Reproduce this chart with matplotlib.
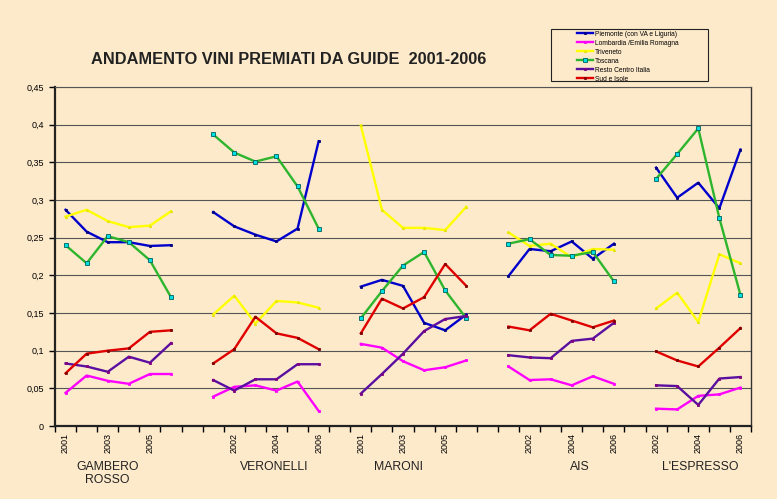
import numpy as np
import matplotlib

matplotlib.use("Agg")
import matplotlib.pyplot as plt
from matplotlib.patches import Rectangle

plt.rcParams["font.family"] = ["Liberation Sans", "DejaVu Sans"]

NA = np.nan

# one category per year, empty slots separate the guides (Excel style)
CATEGORIES = (
    ["2001", "2002", "2003", "2004", "2005", "2006", ""]      # Gambero Rosso
    + ["2001", "2002", "2003", "2004", "2005", "2006", ""]    # Veronelli
    + ["2001", "2002", "2003", "2004", "2005", "2006", ""]    # Maroni
    + ["2001", "2002", "2003", "2004", "2005", "2006", ""]    # AIS
    + ["2002", "2003", "2004", "2005", "2006"]                # L'Espresso
)
GUIDES = ["GAMBERO\nROSSO", "VERONELLI", "MARONI", "AIS", "L'ESPRESSO"]
GUIDE_LABEL_X = [2.0, 9.9, 15.8, 24.4, 30.1]

piemonte = [0.287, 0.258, 0.244, 0.244, 0.239, 0.240, NA,
            0.284, 0.265, 0.254, 0.245, 0.262, 0.378, NA,
            0.185, 0.194, 0.186, 0.137, 0.127, 0.148, NA,
            0.199, 0.235, 0.232, 0.245, 0.222, 0.242, NA,
            0.343, 0.303, 0.323, 0.289, 0.367]
lombardia = [0.044, 0.067, 0.060, 0.056, 0.069, 0.069, NA,
             0.039, 0.052, 0.054, 0.047, 0.059, 0.020, NA,
             0.109, 0.104, 0.086, 0.074, 0.078, 0.087, NA,
             0.079, 0.061, 0.062, 0.054, 0.066, 0.056, NA,
             0.023, 0.022, 0.040, 0.042, 0.051]
triveneto = [0.278, 0.287, 0.272, 0.264, 0.266, 0.285, NA,
             0.148, 0.173, 0.136, 0.166, 0.164, 0.157, NA,
             0.399, 0.287, 0.263, 0.263, 0.260, 0.291, NA,
             0.257, 0.239, 0.242, 0.224, 0.235, 0.234, NA,
             0.156, 0.177, 0.138, 0.228, 0.216]
toscana = [0.240, 0.216, 0.252, 0.244, 0.220, 0.171, NA,
           0.387, 0.363, 0.351, 0.358, 0.318, 0.262, NA,
           0.143, 0.179, 0.213, 0.231, 0.180, 0.143, NA,
           0.242, 0.248, 0.227, 0.226, 0.231, 0.192, NA,
           0.328, 0.361, 0.395, 0.276, 0.174]
resto_centro = [0.083, 0.079, 0.072, 0.092, 0.084, 0.110, NA,
                0.061, 0.047, 0.062, 0.062, 0.082, 0.082, NA,
                0.043, 0.069, 0.096, 0.126, 0.142, 0.146, NA,
                0.094, 0.091, 0.090, 0.113, 0.116, 0.137, NA,
                0.054, 0.053, 0.028, 0.063, 0.065]
sud_isole = [0.070, 0.096, 0.100, 0.103, 0.125, 0.127, NA,
             0.083, 0.102, 0.145, 0.123, 0.117, 0.102, NA,
             0.123, 0.169, 0.156, 0.171, 0.215, 0.186, NA,
             0.132, 0.127, 0.149, 0.140, 0.131, 0.140, NA,
             0.099, 0.087, 0.079, 0.104, 0.130]

SERIES = [
    ("Piemonte (con VA e Liguria)", piemonte, "#0000CC", "s", "#000080", "#000080", 1.4),
    ("Lombardia /Emilia Romagna", lombardia, "#FF00FF", "s", "#FF00FF", "#FF00FF", 1.4),
    ("Triveneto", triveneto, "#FFFF00", "^", "#E0E000", "#FFFF00", 1.6),
    ("Toscana", toscana, "#2DB52D", "s", "#006060", "#00E0E0", 2.4),
    ("Resto Centro Italia", resto_centro, "#5A0FA0", "s", "#800080", "#800080", 1.8),
    ("Sud e Isole", sud_isole, "#E00000", "s", "#800000", "#800000", 1.4),
]

BG = "#FDEACB"


def main():
    fig = plt.figure(figsize=(7.77, 4.99), dpi=100, facecolor=BG)
    ax = fig.add_axes([55 / 777, 73 / 499, 696 / 777, 339 / 499], facecolor=BG)

    x = np.arange(len(CATEGORIES))
    handles = []
    for label, vals, color, marker, mec, mfc, ms in SERIES:
        (line,) = ax.plot(x, np.array(vals, dtype=float), color=color, lw=1.7,
                          marker=marker, ms=ms, mec=mec, mfc=mfc, mew=0.6,
                          label=label, zorder=3)
        handles.append(line)

    ax.set_xlim(-0.5, len(CATEGORIES) - 0.5)
    ax.set_ylim(0, 0.45)
    yt = np.arange(0, 0.451, 0.05)
    ax.set_yticks(yt)
    ax.set_yticklabels([("%.2f" % v).rstrip("0").rstrip(".").replace(".", ",") for v in yt],
                       fontsize=6.5)
    ax.grid(axis="y", color="#555555", lw=0.8)
    ax.set_axisbelow(True)

    ax.set_xticks(np.arange(-0.5, len(CATEGORIES)), minor=False)
    ax.set_xticklabels([])
    ax.set_xticks(x[::2], minor=True)
    ax.set_xticklabels(CATEGORIES[::2], minor=True, rotation=90, fontsize=6.5)
    ax.tick_params(axis="x", which="major", length=4, width=1, direction="out")
    ax.tick_params(axis="x", which="minor", length=0, pad=5)
    ax.tick_params(axis="y", length=4, width=1, pad=4)

    for side in ["left", "bottom"]:
        ax.spines[side].set_linewidth(1.6)
        ax.spines[side].set_color("#222222")
    ax.spines["right"].set_linewidth(1.0)
    ax.spines["right"].set_color("#333333")
    ax.spines["top"].set_linewidth(0.8)
    ax.spines["top"].set_color("#555555")

    for gx, gname in zip(GUIDE_LABEL_X, GUIDES):
        ax.text(gx, -0.046, gname, ha="center", va="top", fontsize=8.8,
                linespacing=1.1, color="#222222")

    fig.text(289 / 777, 1 - 60 / 499, "ANDAMENTO VINI PREMIATI DA GUIDE  2001-2006",
             ha="center", va="center", fontsize=11.8, fontweight="bold", color="#222222")

    # legend box drawn separately: Excel leaves wide margins around the entries
    fig.patches.append(Rectangle((551 / 777, 1 - 81 / 499), 157 / 777, 52 / 499,
                                 transform=fig.transFigure, fill=False,
                                 edgecolor="#222222", lw=0.8))
    fig.legend(handles=handles, loc="upper left",
               bbox_to_anchor=(575 / 777, 1 - 29 / 499), bbox_transform=fig.transFigure,
               fontsize=4.8, frameon=False, handlelength=2.5,
               borderpad=0.25, labelspacing=0.3, handletextpad=0.2, borderaxespad=0)

    fig.savefig("out.png", dpi=100, facecolor=BG)
    plt.close(fig)


if __name__ == "__main__":
    main()
